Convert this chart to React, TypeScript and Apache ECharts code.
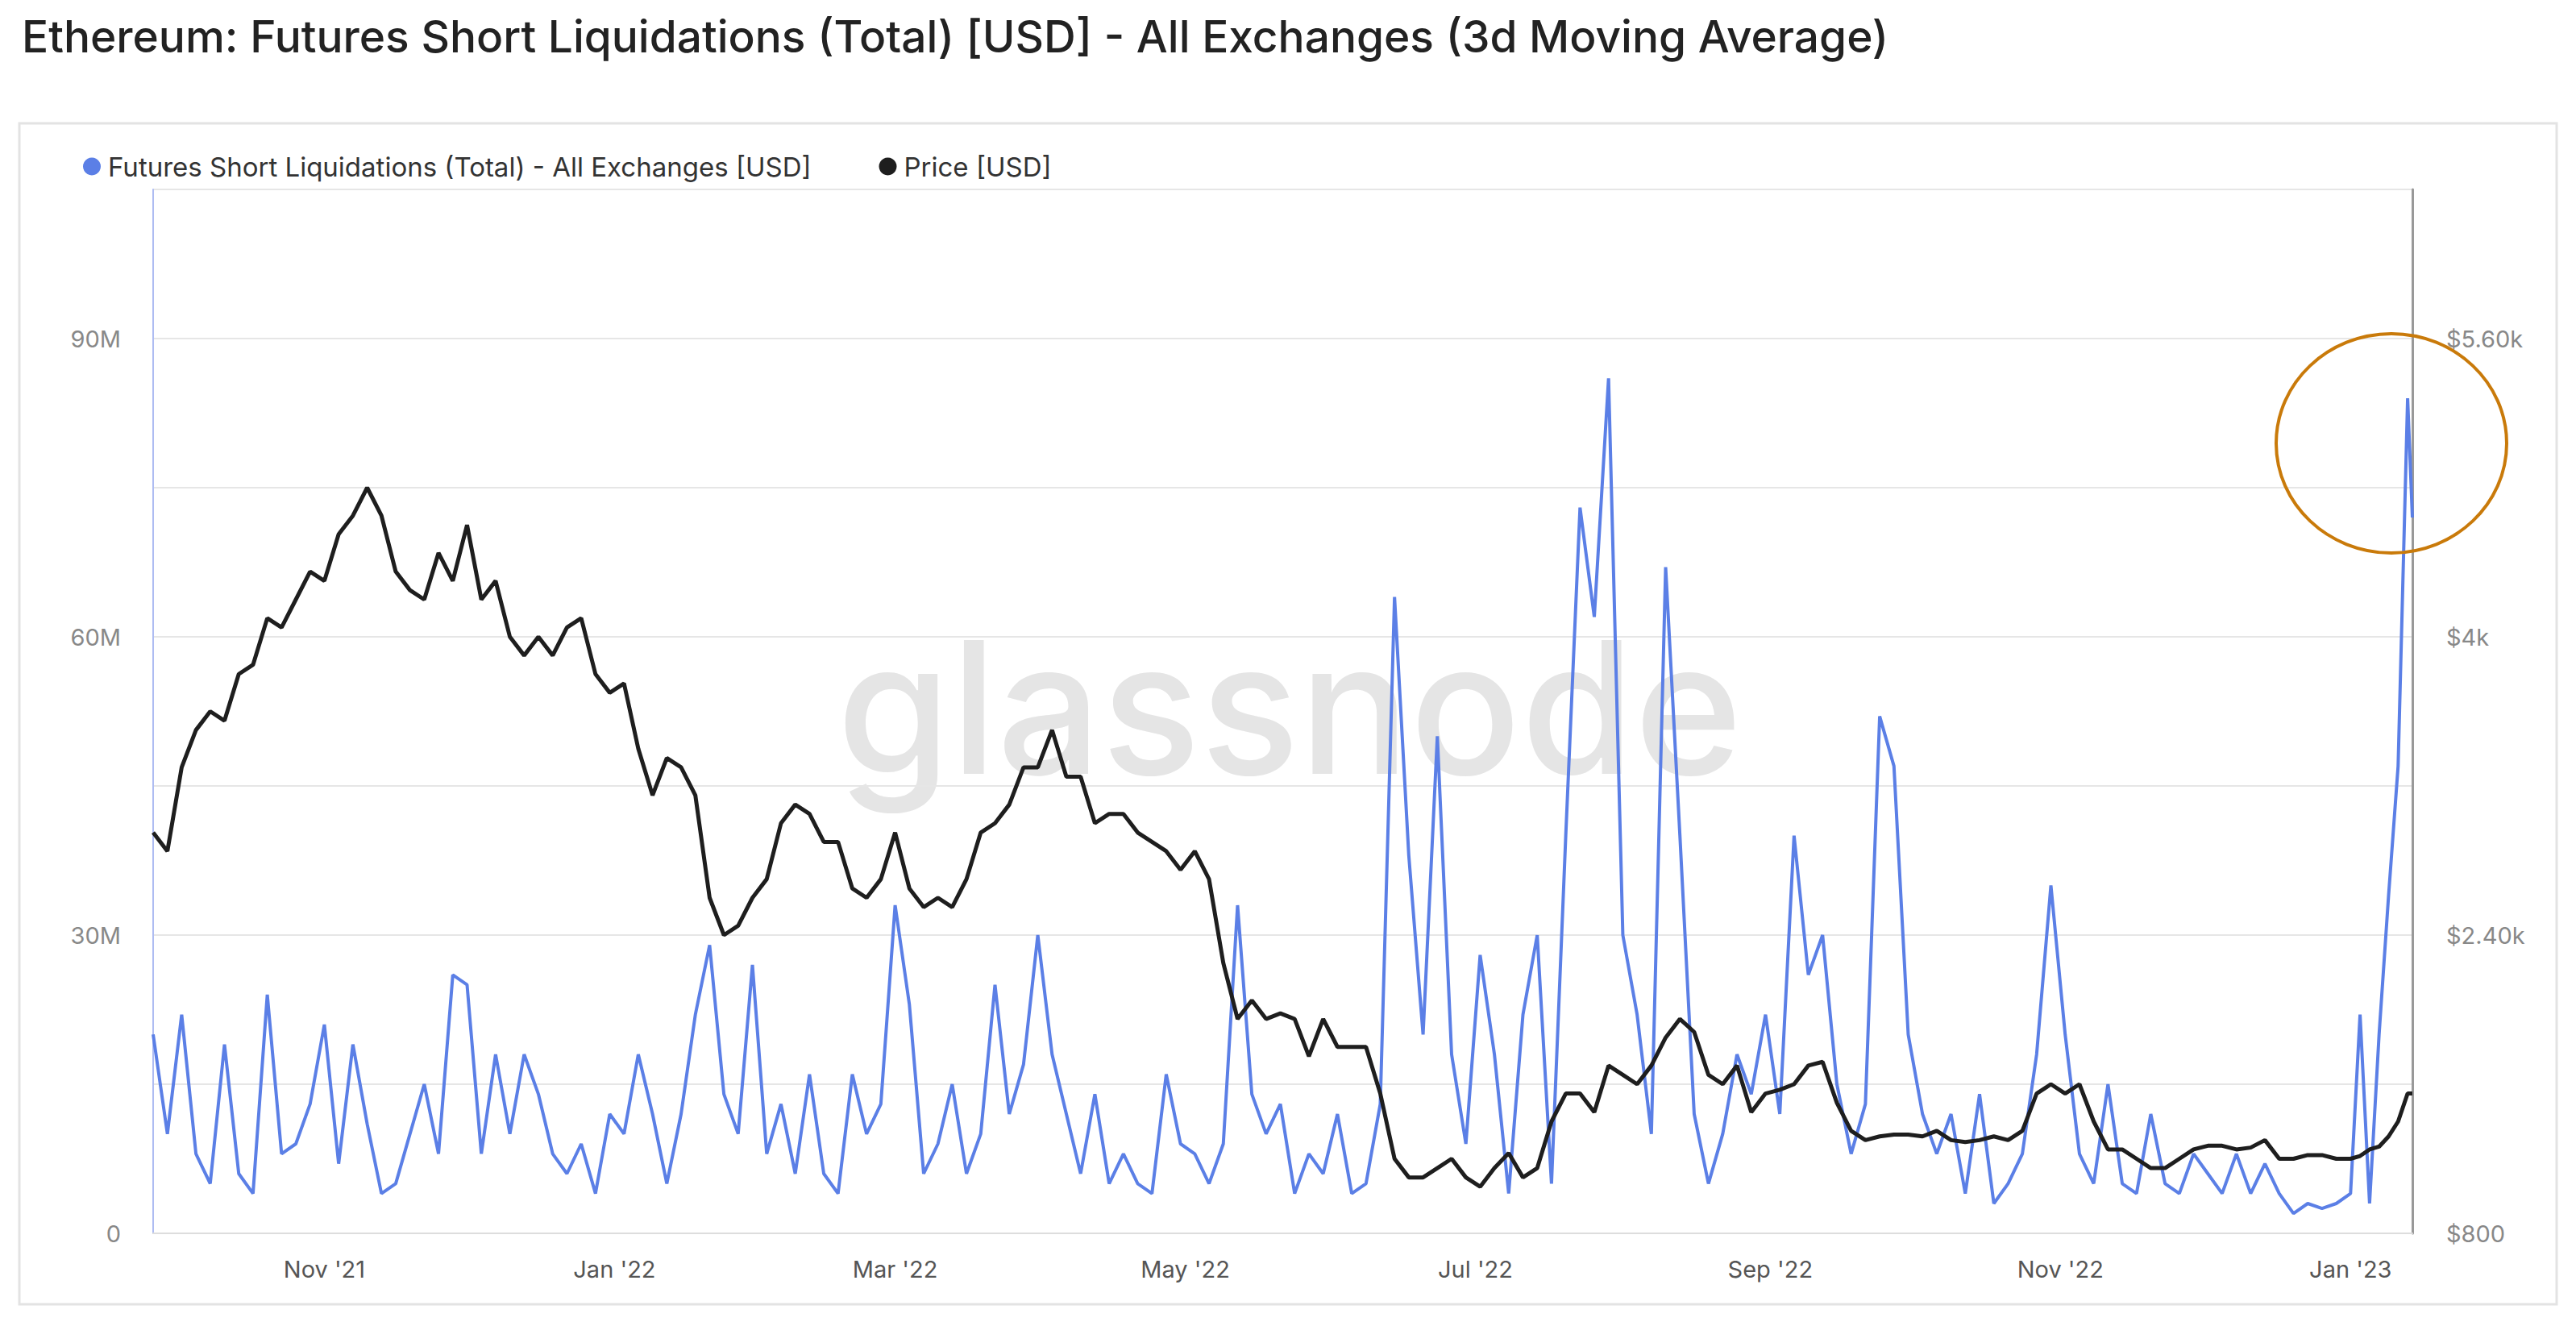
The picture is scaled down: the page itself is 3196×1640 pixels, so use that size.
import React, { useEffect, useRef } from "react";
import * as echarts from "echarts";

const START = Date.UTC(2021, 8, 26);
const STEP_DAYS = 3;
const END = Date.UTC(2023, 0, 14);

// Futures short liquidations (3d MA), USD millions, sampled every 3 days from 2021-09-26 to 2022-12-29
const liquidationsM = [
  20, 10, 22, 8, 5, 19, 6, 4, 24, 8, 9, 13, 21, 7, 19, 11, 4, 5, 10, 15, 8, 26, 25, 8, 18, 10, 18, 14, 8, 6,
  9, 4, 12, 10, 18, 12, 5, 12, 22, 29, 14, 10, 27, 8, 13, 6, 16, 6, 4, 16, 10, 13, 33, 23, 6, 9, 15, 6, 10, 25,
  12, 17, 30, 18, 12, 6, 14, 5, 8, 5, 4, 16, 9, 8, 5, 9, 33, 14, 10, 13, 4, 8, 6, 12, 4, 5, 13, 64, 38, 20,
  50, 18, 9, 28, 18, 4, 22, 30, 5, 40, 73, 62, 86, 30, 22, 10, 67, 40, 12, 5, 10, 18, 14, 22, 12, 40, 26, 30, 15, 8,
  13, 52, 47, 20, 12, 8, 12, 4, 14, 3, 5, 8, 18, 35, 20, 8, 5, 15, 5, 4, 12, 5, 4, 8, 6, 4, 8, 4, 7, 4,
  2, 3, 2.5, 3,
];

// ETH price (USD), same sampling
const priceUsd = [
  2950, 2850, 3300, 3500, 3600, 3550, 3800, 3850, 4100, 4050, 4200, 4350, 4300, 4550, 4650, 4800, 4650, 4350, 4250, 4200,
  4450, 4300, 4600, 4200, 4300, 4000, 3900, 4000, 3900, 4050, 4100, 3800, 3700, 3750, 3400, 3150, 3350, 3300, 3150, 2600,
  2400, 2450, 2600, 2700, 3000, 3100, 3050, 2900, 2900, 2650, 2600, 2700, 2950, 2650, 2550, 2600, 2550, 2700, 2950, 3000,
  3100, 3300, 3300, 3500, 3250, 3250, 3000, 3050, 3050, 2950, 2900, 2850, 2750, 2850, 2700, 2250, 1950, 2050, 1950, 1980,
  1950, 1750, 1950, 1800, 1800, 1800, 1550, 1200, 1100, 1100, 1150, 1200, 1100, 1050, 1150, 1230, 1100, 1150, 1400, 1550,
  1550, 1450, 1700, 1650, 1600, 1700, 1850, 1950, 1880, 1650, 1600, 1700, 1450, 1550, 1570, 1600, 1700, 1720, 1500, 1350,
  1300, 1320, 1330, 1330, 1320, 1350, 1300, 1290, 1300, 1320, 1300, 1350, 1550, 1600, 1550, 1600, 1400, 1250, 1250, 1200,
  1150, 1150, 1200, 1250, 1270, 1270, 1250, 1260, 1300, 1200, 1200, 1220, 1220, 1200,
];

// Final days (Jan 2023), higher resolution
const tailDates = ["2023-01-01", "2023-01-03", "2023-01-05", "2023-01-07", "2023-01-09", "2023-01-11", "2023-01-13", "2023-01-14"];
const tailLiquidationsM = [4, 22, 3, 20, 34, 47, 84, 72];
const tailPriceUsd = [1200, 1215, 1250, 1265, 1320, 1400, 1550, 1550];

const TITLE = "Ethereum: Futures Short Liquidations (Total) [USD] - All Exchanges (3d Moving Average)";
const LIQ_NAME = "Futures Short Liquidations (Total) - All Exchanges [USD]";
const PRICE_NAME = "Price [USD]";
const MONTHS = ["Jan", "Feb", "Mar", "Apr", "May", "Jun", "Jul", "Aug", "Sep", "Oct", "Nov", "Dec"];

const build = (vals: number[], tail: number[], scale: number) => {
  const pts: [number, number][] = vals.map((v, i) => [START + i * STEP_DAYS * 86400000, v * scale]);
  tailDates.forEach((d, i) => pts.push([Date.parse(d + "T00:00:00Z"), tail[i] * scale]));
  return pts;
};

export default function App() {
  const ref = useRef<HTMLDivElement>(null);
  useEffect(() => {
    const chart = echarts.init(ref.current!, undefined, { renderer: "svg" });
    const font = "Inter, 'Noto Sans', sans-serif";
    chart.setOption({
      animation: false,
      backgroundColor: "#ffffff",
      textStyle: { fontFamily: font },
      title: {
        text: TITLE,
        left: 22,
        top: 12,
        textStyle: { fontSize: 55, fontWeight: 500, color: "#222", fontFamily: font },
      },
      legend: {
        left: 98,
        top: 185,
        icon: "circle",
        itemWidth: 22,
        itemHeight: 22,
        itemGap: 84,
        textStyle: { fontSize: 33, color: "#333", fontFamily: font, padding: [0, 0, 0, 4] },
        data: [LIQ_NAME, PRICE_NAME],
      },
      grid: { left: 190, right: 203, top: 235, bottom: 110 },
      xAxis: {
        type: "time",
        min: START,
        max: END,
        splitNumber: 16,
        axisLine: { show: true, lineStyle: { color: "#dddddd", width: 2 } },
        axisTick: { show: false },
        splitLine: { show: false },
        axisLabel: {
          fontSize: 29,
          color: "#555",
          margin: 30,
          hideOverlap: false,
          formatter: (v: number) => {
            const d = new Date(v);
            if (d.getUTCDate() !== 1 || d.getUTCMonth() % 2 !== 0) return "";
            return MONTHS[d.getUTCMonth()] + " '" + String(d.getUTCFullYear()).slice(2);
          },
        },
      },
      yAxis: [
        {
          type: "value",
          min: 0,
          max: 105e6,
          interval: 15e6,
          position: "left",
          axisLine: { show: true, lineStyle: { color: "#aebcf2", width: 2 } },
          axisTick: { show: false },
          splitLine: { lineStyle: { color: "#e6e6e6", width: 2 } },
          axisLabel: {
            fontSize: 29,
            color: "#888",
            margin: 40,
            formatter: (v: number) => (v % 30e6 !== 0 ? "" : v === 0 ? "0" : v / 1e6 + "M"),
          },
        },
        {
          type: "value",
          min: 800,
          max: 6400,
          interval: 800,
          position: "right",
          axisLine: { show: true, lineStyle: { color: "#999999", width: 3 } },
          axisTick: { show: false },
          splitLine: { show: false },
          axisLabel: {
            fontSize: 29,
            color: "#888",
            margin: 42,
            formatter: (v: number) => {
              if ((v - 800) % 1600 !== 0) return "";
              if (v < 1000) return "$" + v;
              const k = v / 1000;
              return "$" + (Number.isInteger(k) ? k : k.toFixed(2)) + "k";
            },
          },
        },
      ],
      graphic: [
        {
          type: "rect",
          shape: { x: 24, y: 153, width: 3148, height: 1465 },
          style: { fill: "none", stroke: "#e3e3e3", lineWidth: 3 },
          z: -1,
        },
        {
          type: "text",
          x: 1600,
          y: 877,
          style: {
            text: "glassnode",
            fontSize: 228,
            fontFamily: font,
            fontWeight: 500,
            fill: "#e5e5e5",
            align: "center",
            verticalAlign: "middle",
          },
          z: -1,
        },
        {
          type: "ellipse",
          shape: { cx: 2967, cy: 550, rx: 143, ry: 136 },
          style: { fill: "none", stroke: "#c97a0a", lineWidth: 4 },
          z: 10,
        },
      ],
      series: [
        {
          name: LIQ_NAME,
          type: "line",
          yAxisIndex: 0,
          showSymbol: false,
          data: build(liquidationsM, tailLiquidationsM, 1e6),
          lineStyle: { color: "#5b7fe6", width: 4 },
          itemStyle: { color: "#5b7fe6" },
        },
        {
          name: PRICE_NAME,
          type: "line",
          yAxisIndex: 1,
          showSymbol: false,
          data: build(priceUsd, tailPriceUsd, 1),
          lineStyle: { color: "#1e1e1e", width: 5 },
          itemStyle: { color: "#1e1e1e" },
        },
      ],
    });
    return () => chart.dispose();
  }, []);
  return <div ref={ref} style={{ position: "fixed", left: 0, top: 0, width: 3196, height: 1640 }} />;
}
